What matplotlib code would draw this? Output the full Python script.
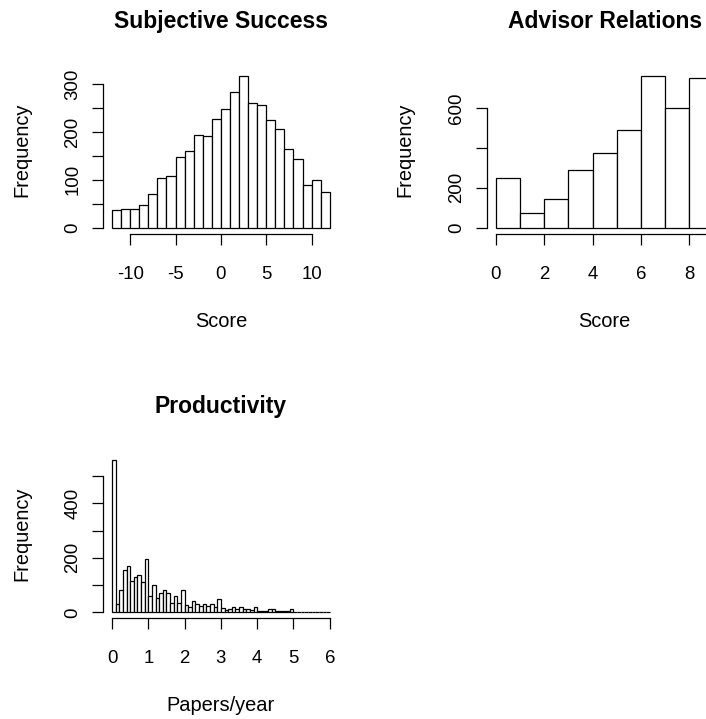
import matplotlib
matplotlib.use("Agg")
import matplotlib.pyplot as plt
import numpy as np

plt.rcParams['font.family'] = ['Liberation Sans', 'DejaVu Sans']

W, H, DPI = 706, 719, 100

# ---------------- data ----------------
success_edges = [-12, -11, -10, -9, -8, -7, -6, -5, -4, -3, -2, -1, 0,
                 1, 2, 3, 4, 5, 6, 7, 8, 9, 10, 11, 12]
success_counts = [36, 39, 39, 47, 70, 104, 107, 147, 161, 193, 191, 227,
                  247, 284, 317, 260, 257, 224, 207, 164, 144, 90, 100, 74]

advisor_edges = [0, 1, 2, 3, 4, 5, 6, 7, 8, 9]
advisor_counts = [250, 72, 145, 290, 377, 488, 762, 600, 752]

prod_edges = np.linspace(0, 6, 61)
prod_counts = [558, 30, 82, 155, 170, 116, 128, 137, 112, 196,
               60, 100, 51, 70, 82, 70, 35, 60, 33, 82,
               28, 20, 42, 30, 22, 32, 24, 32, 20, 48,
               15, 10, 12, 18, 12, 18, 14, 12, 10, 18,
               5, 4, 6, 12, 12, 5, 4, 4, 4, 14,
               3, 3, 2, 2, 3, 2, 2, 2, 1, 0]

titles = ["Subjective Success", "Advisor Relations", "Productivity"]
xlabels = ["Score", "Score", "Papers/year"]
ylabel = "Frequency"

success_xticks = [-10, -5, 0, 5, 10]
success_yticks = [0, 50, 100, 150, 200, 250, 300]
success_ylabels = ["0", "", "100", "", "200", "", "300"]
advisor_xticks = [0, 2, 4, 6, 8]
advisor_yticks = [0, 200, 400, 600]
advisor_ylabels = ["0", "200", "", "600"]
prod_xticks = [0, 1, 2, 3, 4, 5, 6]
prod_yticks = [0, 100, 200, 300, 400, 500]
prod_ylabels = ["0", "", "200", "", "400", ""]

# ---------------- layout (pixels) ----------------
def rect(l, r, t, b):
    return [l / W, 1 - b / H, (r - l) / W, (b - t) / H]

ROW_T = [69.8, 454.2]
ROW_B = [233.8, 618.4]
COL_L = [103.3, 487.0]
COL_R = [338.5, 722.2]

LW = 0.9
TICK_PX = 11
TICK_FS = 13.4
LAB_FS = 14.4
TITLE_FS = 16.5

fig = plt.figure(figsize=(W / DPI, H / DPI), dpi=DPI)


def panel(row, col, edges, counts, xticks, yticks, ylabels_, title, xlabel,
          axis_end=None):
    l, r, t, b = COL_L[col], COL_R[col], ROW_T[row], ROW_B[row]
    ax = fig.add_axes(rect(l, r, t, b))
    edges = np.asarray(edges, dtype=float)
    ax.bar(edges[:-1], counts, width=np.diff(edges), align='edge',
           color='white', edgecolor='black', linewidth=LW)
    lo, hi = edges[0], edges[-1]
    span = hi - lo
    ax.set_xlim(lo - 0.04 * span, hi + 0.04 * span)
    m = max(counts)
    ax.set_ylim(-0.04 * m, 1.04 * m)
    for s in ['top', 'right']:
        ax.spines[s].set_visible(False)
    ax.spines['left'].set_bounds(yticks[0], yticks[-1])
    ax.spines['bottom'].set_bounds(xticks[0],
                                   xticks[-1] if axis_end is None else axis_end)
    for s in ['left', 'bottom']:
        ax.spines[s].set_linewidth(LW)
    ax.set_xticks(xticks, [str(v) for v in xticks])
    ax.set_yticks(yticks, ylabels_)
    ax.tick_params(axis='both', direction='out', length=TICK_PX * 72 / DPI,
                   width=LW, labelsize=TICK_FS, colors='black')
    ax.tick_params(axis='x', pad=34 * 72 / DPI)
    ax.tick_params(axis='y', pad=15 * 72 / DPI)
    for lab in ax.get_xticklabels():
        lab.set_va('baseline')
    for lab in ax.get_yticklabels():
        lab.set_rotation(90)
        lab.set_rotation_mode('anchor')
        lab.set_ha('center')
        lab.set_va('baseline')
    ax.patch.set_visible(False)

    cx = (l + r) / 2
    cy = (t + b) / 2
    fig.text(cx / W, 1 - (t - 41.5) / H, title, ha='center', va='baseline',
             fontsize=TITLE_FS, fontweight='bold')
    fig.text(cx / W, 1 - (b + 92.8) / H, xlabel, ha='center', va='baseline',
             fontsize=LAB_FS)
    fig.text((l - 76.3) / W, 1 - (cy - 2) / H, ylabel, ha='center',
             va='baseline', rotation=90, rotation_mode='anchor',
             fontsize=LAB_FS)
    return ax


panel(0, 0, success_edges, success_counts, success_xticks, success_yticks,
      success_ylabels, titles[0], xlabels[0])
panel(0, 1, advisor_edges, advisor_counts, advisor_xticks, advisor_yticks,
      advisor_ylabels, titles[1], xlabels[1], axis_end=10)
panel(1, 0, prod_edges, prod_counts, prod_xticks, prod_yticks,
      prod_ylabels, titles[2], xlabels[2])

fig.savefig("out.png", dpi=DPI, facecolor='white')
